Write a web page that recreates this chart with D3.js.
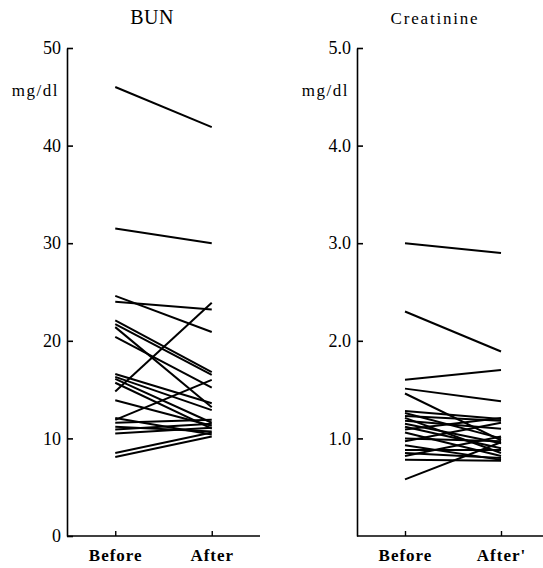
<!DOCTYPE html>
<html><head><meta charset="utf-8">
<script src="https://cdn.jsdelivr.net/npm/d3@7/dist/d3.min.js"></script>
<style>body{margin:0;background:#fff}svg{display:block}</style>
</head><body>
<script>
const categories = ["Before", "After"];
const bunTicks = [0, 10, 20, 30, 40, 50];
const creTicks = [1.0, 2.0, 3.0, 4.0, 5.0];
const bunBefore = [46, 31.5, 24.6, 24.0, 22.1, 21.7, 21.4, 20.4, 16.6, 16.3, 16.1, 15.7, 14.8, 13.9, 12.1, 11.9, 11.6, 11.2, 10.9, 10.5, 8.5, 8.1];
const bunAfter  = [41.9, 30.0, 20.9, 23.2, 16.8, 16.5, 13.2, 15.2, 13.6, 12.9, 11.6, 11.0, 23.9, 11.3, 10.4, 16.0, 11.9, 10.7, 11.5, 11.1, 10.6, 10.2];
const creBefore = [3.0, 2.3, 1.6, 1.51, 1.46, 1.28, 1.26, 1.23, 1.21, 1.18, 1.15, 1.12, 1.09, 1.06, 1.0, 0.97, 0.93, 0.88, 0.85, 0.82, 0.78, 0.58];
const creAfter  = [2.9, 1.89, 1.7, 1.38, 0.98, 1.2, 1.0, 1.18, 0.85, 1.1, 0.95, 0.9, 1.21, 0.82, 0.97, 1.16, 0.78, 0.88, 0.8, 1.02, 0.77, 0.96];

const W = 543, H = 568;
const svg = d3.select("body").append("svg").attr("width", W).attr("height", H);
const serif = "'Liberation Serif', 'DejaVu Serif', serif";

function panel(o) {
  const y = d3.scaleLinear().domain([0, o.max]).range([536, 48]);
  const x = d3.scalePoint().domain(categories).range([o.x0, o.x1]).padding(0.5);
  const g = svg.append("g");

  const ya = g.append("g").attr("transform", `translate(${o.x0},0)`)
    .attr("font-family", serif).attr("font-size", 18)
    .call(d3.axisLeft(y).tickValues(o.ticks).tickSizeInner(-6).tickSizeOuter(0).tickPadding(6).tickFormat(o.fmt));
  ya.attr("font-family", serif).attr("font-size", 18);
  ya.select(".domain").attr("stroke-width", 1.6);
  ya.selectAll(".tick line").attr("stroke-width", 1.6);
  ya.selectAll("text").style("font-family", serif).style("font-size", "18px").attr("fill", "#000");

  const xa = g.append("g").attr("transform", "translate(0,536)")
    .call(d3.axisBottom(x).tickSizeInner(-5).tickSizeOuter(0).tickPadding(13).tickFormat((d, i) => o.xlab[i]));
  xa.attr("font-family", serif).attr("font-size", 17);
  xa.select(".domain").attr("d", `M${o.x0},0H${o.xend}`).attr("stroke-width", 1.6);
  xa.selectAll(".tick line").attr("stroke-width", 1.4);
  xa.selectAll("text").style("font-family", serif).style("font-size", "17px").attr("font-weight", "bold")
    .attr("letter-spacing", 1).attr("fill", "#000");

  const lines = o.before.map((b, i) => [b, o.after[i]]);
  g.append("g").selectAll("line").data(lines).join("line")
    .attr("x1", x("Before")).attr("x2", x("After"))
    .attr("y1", d => y(d[0])).attr("y2", d => y(d[1]))
    .attr("stroke", "#000").attr("stroke-width", 2);

  g.append("text").attr("x", o.titleX).attr("y", 24).attr("text-anchor", "middle")
    .style("font-family", serif).style("font-size", o.titleSize + "px").attr("letter-spacing", o.titleLS).text(o.title);
  g.append("text").attr("x", o.x0 - 8).attr("y", 96).attr("text-anchor", "end")
    .style("font-family", serif).style("font-size", "17px").attr("letter-spacing", 1.5).text("mg/dl");
}

panel({x0: 67, x1: 260, xend: 260, max: 50, ticks: bunTicks, fmt: d3.format("d"),
  before: bunBefore, after: bunAfter, title: "BUN", titleX: 152, titleSize: 20, titleLS: 0.5,
  xlab: ["Before", "After"]});
panel({x0: 357, x1: 549, xend: 543, max: 5, ticks: creTicks, fmt: d3.format(".1f"),
  before: creBefore, after: creAfter, title: "Creatinine", titleX: 435, titleSize: 17, titleLS: 1.8,
  xlab: ["Before", "After'"]});
</script>
</body></html>
